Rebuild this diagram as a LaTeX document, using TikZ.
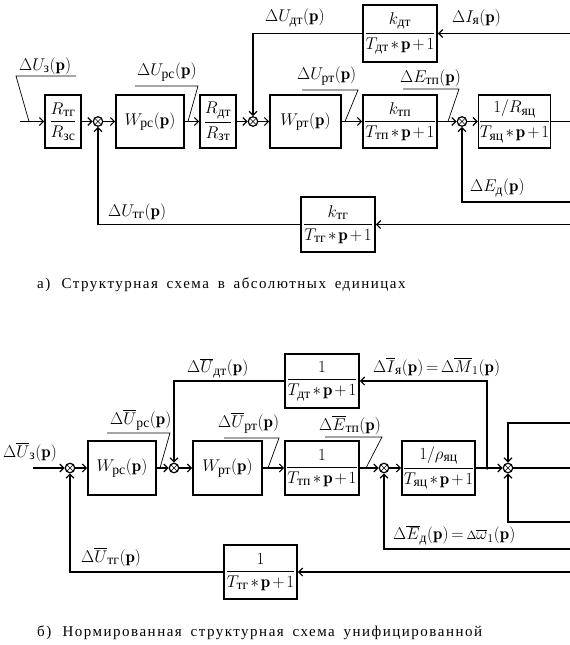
\RequirePackage{fix-cm}
\documentclass[tikz,border=0pt]{standalone}
\usepackage{amsmath}
\usepackage{fontspec}
\newfontfamily\cyr[Scale=1.15]{Liberation Serif}
\newfontfamily\capfont[LetterSpace=10]{Liberation Serif}
\usetikzlibrary{arrows.meta}
\newcommand\cy[1]{\text{\cyr #1}}
\newcommand\bp{\mathbf{p}}
\newcommand\fr[2]{\genfrac{}{}{1.1pt}{0}{#1}{#2}}
\newcommand\sumx[1]{\draw[line width=0.6pt] (#1.north west)--(#1.south east) (#1.north east)--(#1.south west);}
\medmuskip=2mu plus 1mu minus 2mu
\thickmuskip=3mu plus 2mu
\begin{document}
\begin{tikzpicture}[x=1pt,y=-1pt,
  every node/.style={font=\fontsize{17}{19}\selectfont},
  blk/.style={draw,line width=1.6pt,inner sep=0pt,align=center},
  sj/.style={circle,draw,line width=1.2pt,minimum size=9.5pt,inner sep=0pt},
  con/.style={line width=1.6pt,-{Straight Barb[length=4pt,width=8pt,line width=1.2pt]}},
  ln/.style={line width=1.6pt},
  ann/.style={line width=0.7pt},
  lbl/.style={inner sep=0pt,anchor=west},
  captext/.style={inner sep=0pt,anchor=west,font=\fontsize{15}{17}\selectfont\capfont},
  dotn/.style={circle,fill,minimum size=3.5pt,inner sep=0pt}]
\useasboundingbox (0,0) rectangle (570,645);
% ---------------- part a ----------------
\node[blk,minimum width=36,minimum height=53] (a1) at (63,121.5) {$\fr{R_{\cy{тг}}}{R_{\cy{зс}}}$};
\node[sj] (s1) at (98,121.5) {};
\node[blk,minimum width=68,minimum height=53] (a2) at (150,121.5) {$W_{\cy{рс}}(\bp)$};
\node[blk,minimum width=36,minimum height=53] (a3) at (218,121.5) {$\fr{R_{\cy{дт}}}{R_{\cy{зт}}}$};
\node[sj] (s2) at (253,121.5) {};
\node[blk,minimum width=71,minimum height=53] (a4) at (305.5,121.5) {$W_{\cy{рт}}(\bp)$};
\node[blk,minimum width=74,minimum height=57] (a5) at (400,33.5) {$\fr{k_{\cy{дт}}}{T_{\cy{дт}}\ast\bp+1}$};
\node[blk,minimum width=74,minimum height=53] (a6) at (400,121.5) {$\fr{k_{\cy{тп}}}{T_{\cy{тп}}\ast\bp+1}$};
\node[sj] (s3) at (462,121.5) {};
\node[blk,minimum width=71,minimum height=53] (a7) at (514.5,121.5) {$\fr{1/R_{\cy{яц}}}{T_{\cy{яц}}\ast\bp+1}$};
\node[blk,minimum width=74,minimum height=55] (a8) at (338,224.5) {$\fr{k_{\cy{тг}}}{T_{\cy{тг}}\ast\bp+1}$};
\sumx{s1}\sumx{s2}\sumx{s3}
\coordinate (ina) at (20,121.5);
\coordinate (oa) at (570,121.5);
\coordinate (ra1) at (570,33.5);
\coordinate (ra3) at (570,202);
\coordinate (ra4) at (570,224.5);
\draw[con] (ina) -- (a1.west);
\draw[con] (a1.east) -- (s1);
\draw[con] (s1) -- (a2.west);
\draw[con] (a2.east) -- (a3.west);
\draw[con] (a3.east) -- (s2);
\draw[con] (s2) -- (a4.west);
\draw[con] (a4.east) -- (a6.west);
\draw[con] (a6.east) -- (s3);
\draw[con] (s3) -- (a7.west);
\draw[ln] (a7.east) -- (oa);
\draw[con] (ra1) -- (a5.east);
\draw[con] (a5.west) -| (s2);
\draw[con] (ra3) -| (s3);
\draw[con] (ra4) -- (a8.east);
\draw[con] (a8.west) -| (s1);
\node[lbl] (lz) at (19,66) {$\Delta U_{\cy{з}}(\bp)$};
\node[lbl] (lrs) at (137,72) {$\Delta U_{\cy{рс}}(\bp)$};
\node[lbl] (ldt) at (265,18) {$\Delta U_{\cy{дт}}(\bp)$};
\node[lbl] (lia) at (452,18) {$\Delta I_{\cy{я}}(\bp)$};
\node[lbl] (lrt) at (297,76) {$\Delta U_{\cy{рт}}(\bp)$};
\node[lbl] (ltp) at (400,78) {$\Delta E_{\cy{тп}}(\bp)$};
\node[lbl] (led) at (470,188) {$\Delta E_{\cy{д}}(\bp)$};
\node[lbl] (ltg) at (108,212) {$\Delta U_{\cy{тг}}(\bp)$};
\draw[ann] (76,76) -- (16,76) -- (29,121.5);
\draw[ann] (135,86) -- (198,86) -- (188,121.5);
\draw[ann] (302,90) -- (358,90) -- (345,121.5);
\draw[ann] (403,89) -- (459,89) -- (448,121.5);
\node[captext] (capa) at (37,285) {а)\hspace{6pt} Структурная\hspace{3.5pt} схема\hspace{3.5pt} в\hspace{3.5pt} абсолютных\hspace{3.5pt} единицах};
% ---------------- part b ----------------
\node[sj] (t1) at (70,468) {};
\node[blk,minimum width=68,minimum height=54] (b2) at (122,468) {$W_{\cy{рс}}(\bp)$};
\node[sj] (t2) at (174,468) {};
\node[blk,minimum width=69,minimum height=54] (b4) at (227.5,468) {$W_{\cy{рт}}(\bp)$};
\node[blk,minimum width=74,minimum height=54] (b5) at (322,381) {$\fr{1}{T_{\cy{дт}}\ast\bp+1}$};
\node[blk,minimum width=74,minimum height=54] (b6) at (322,468) {$\fr{1}{T_{\cy{тп}}\ast\bp+1}$};
\node[sj] (t3) at (384,468) {};
\node[blk,minimum width=73,minimum height=54] (b7) at (438.5,468) {$\fr{1/\rho_{\cy{яц}}}{T_{\cy{яц}}\ast\bp+1}$};
\node[dotn] (dt) at (487,468) {};
\node[sj] (t4) at (508,468) {};
\node[blk,minimum width=73,minimum height=54] (b8) at (260.5,572) {$\fr{1}{T_{\cy{тг}}\ast\bp+1}$};
\sumx{t1}\sumx{t2}\sumx{t3}\sumx{t4}
\coordinate (inb) at (33,468);
\coordinate (ob) at (570,468);
\coordinate (rb1) at (570,423);
\coordinate (rb2) at (570,522);
\coordinate (rb3) at (570,549);
\coordinate (rb4) at (570,572);
\draw[con] (inb) -- (t1);
\draw[con] (t1) -- (b2.west);
\draw[con] (b2.east) -- (t2);
\draw[con] (t2) -- (b4.west);
\draw[con] (b4.east) -- (b6.west);
\draw[con] (b6.east) -- (t3);
\draw[con] (t3) -- (b7.west);
\draw[con] (b7.east) -- (t4);
\draw[con] (dt.center) |- (b5.east);
\draw[con] (b5.west) -| (t2);
\draw[con] (rb1) -| (t4);
\draw[con] (rb2) -| (t4);
\draw[ln] (t4) -- (ob);
\draw[con] (rb3) -| (t3);
\draw[con] (rb4) -- (b8.east);
\draw[con] (b8.west) -| (t1);
\node[lbl] (mz) at (3,452) {$\Delta \overline{U}_{\cy{з}}(\bp)$};
\node[lbl] (mrs) at (110,420) {$\Delta \overline{U}_{\cy{рс}}(\bp)$};
\node[lbl] (mrt) at (218,423) {$\Delta \overline{U}_{\cy{рт}}(\bp)$};
\node[lbl] (mdt) at (187,368) {$\Delta \overline{U}_{\cy{дт}}(\bp)$};
\node[lbl] (mia) at (373,367) {$\Delta \overline{I}_{\cy{я}}(\bp)=\Delta \overline{M}_1(\bp)$};
\node[lbl] (mtp) at (319,425) {$\Delta \overline{E}_{\cy{тп}}(\bp)$};
\node[lbl] (med) at (393,535) {$\Delta \overline{E}_{\cy{д}}(\bp)={\scriptstyle\Delta}\overline{\omega}_1(\bp)$};
\node[lbl] (mtg) at (81,557) {$\Delta \overline{U}_{\cy{тг}}(\bp)$};
\draw[ann] (107,433) -- (170,433) -- (160,468);
\draw[ann] (224,438) -- (279,438) -- (268,468);
\draw[ann] (325,437) -- (382,437) -- (366,468);
\node[captext] (capb) at (37,633) {б)\hspace{6pt} Нормированная\hspace{3.5pt} структурная\hspace{3.5pt} схема\hspace{3.5pt} унифицированной};
\end{tikzpicture}
\end{document}
